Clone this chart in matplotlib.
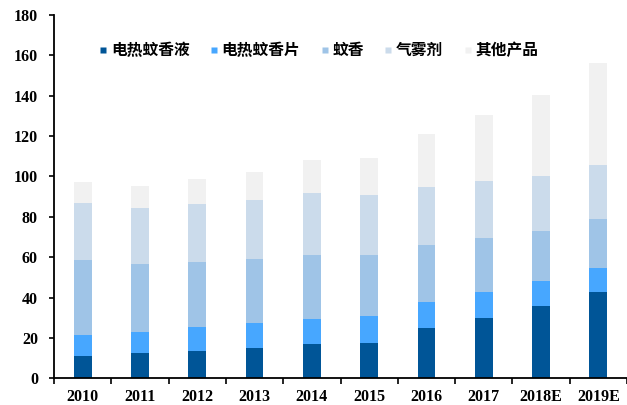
import numpy as np
import matplotlib.pyplot as plt
from matplotlib.lines import Line2D

plt.rcParams['font.family'] = ['Liberation Serif', 'Noto Sans CJK SC']

years = ['2010', '2011', '2012', '2013', '2014', '2015', '2016', '2017', '2018E', '2019E']
names = ['电热蚊香液', '电热蚊香片', '蚊香', '气雾剂', '其他产品']
colors = ['#005597', '#47A7FF', '#9FC4E7', '#CBDBEB', '#F1F1F1']

liquid = [11.2, 12.4, 13.7, 15.2, 17.2, 17.7, 24.9, 29.8, 35.9, 42.7]
mat = [10.3, 10.4, 11.6, 12.1, 12.4, 12.9, 12.9, 12.9, 12.2, 12.0]
coil = [37.2, 33.9, 32.4, 31.9, 31.4, 30.6, 28.0, 27.0, 25.0, 24.2]
aerosol = [27.9, 27.6, 28.4, 29.2, 30.9, 29.7, 29.1, 28.0, 27.1, 26.9]
other = [10.6, 11.1, 12.6, 13.8, 16.4, 18.4, 25.9, 32.4, 40.2, 50.5]

series = [liquid, mat, coil, aerosol, other]

W, H = 627, 405
fig = plt.figure(figsize=(W / 100, H / 100), dpi=100)
ax = fig.add_axes([54 / W, 26.7 / H, (W - 54) / W, (378.3 - 14.7) / H])

x = np.arange(len(years))
bottom = np.zeros(len(years))
for vals, c in zip(series, colors):
    ax.bar(x, vals, width=0.31, bottom=bottom, color=c, edgecolor='none')
    bottom += np.array(vals)

ax.set_ylim(0, 180)
ax.set_xlim(-0.5, 9.5 - 3 / 57.6)
ax.set_yticks(range(0, 181, 20))
ax.set_xticks(x)
ax.set_xticklabels(years)
ax.set_xticks(np.arange(-0.5, 10, 1), minor=True)
ax.tick_params(axis='x', which='major', length=0, pad=8)
ax.tick_params(axis='x', which='minor', length=4.5, width=1.2, direction='out')
ax.tick_params(axis='y', length=3.6, width=1.2, pad=8)
for lab in ax.get_xticklabels() + ax.get_yticklabels():
    lab.set_fontsize(11.5)
    lab.set_fontweight('bold')

for s in ['top', 'right']:
    ax.spines[s].set_visible(False)
for s in ['left', 'bottom']:
    ax.spines[s].set_linewidth(1.3)

handles = [Line2D([], [], marker='s', linestyle='none', markersize=5,
                  markerfacecolor=c, markeredgecolor='none') for c in colors]
leg = fig.legend(handles, names, ncol=5, loc='center left',
                 bbox_to_anchor=(99 / W, 1 - 50 / H), frameon=False,
                 handlelength=0.5, handletextpad=0.25, columnspacing=1.3,
                 borderpad=0, borderaxespad=0,
                 prop={'family': 'Noto Sans CJK SC', 'weight': 'bold', 'size': 11.3})

fig.savefig('out.png', dpi=100)
